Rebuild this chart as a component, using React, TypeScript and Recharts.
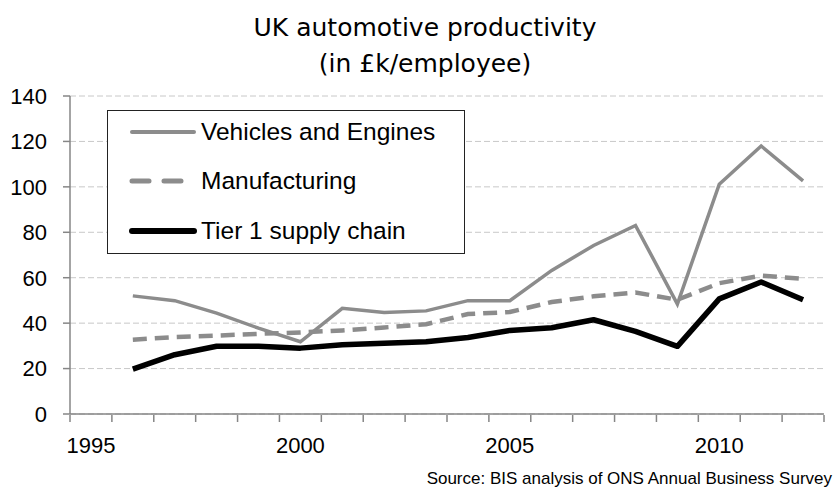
import { LineChart, Line, XAxis, YAxis, CartesianGrid, Legend } from "recharts";

const FONT = "'Liberation Sans', Arial, sans-serif";
const TITLE_FONT = "'DejaVu Sans', sans-serif";

const years = [1996, 1997, 1998, 1999, 2000, 2001, 2002, 2003, 2004, 2005, 2006, 2007, 2008, 2009, 2010, 2011, 2012];
const vehicles = [52.0, 49.9, 44.4, 37.8, 31.8, 46.5, 44.7, 45.4, 49.9, 49.9, 63.2, 74.2, 83.0, 48.4, 101.2, 118.0, 102.6];
const manufacturing = [32.7, 33.9, 34.5, 35.3, 35.9, 36.8, 38.1, 39.5, 44.0, 44.9, 49.3, 51.8, 53.5, 50.3, 57.6, 60.9, 59.5];
const tier1 = [19.8, 26.1, 29.8, 29.8, 29.0, 30.5, 31.2, 31.8, 33.7, 36.8, 38.0, 41.5, 36.4, 29.8, 50.7, 58.1, 50.3];

const yearLabels = [1995, 2000, 2005, 2010];
const yTicks = [0, 20, 40, 60, 80, 100, 120, 140];
// category boundaries (Excel puts tick marks between years)
const boundaryTicks = [years[0] - 1.5, ...years.map((y) => y - 0.5), years[years.length - 1] + 0.5];

const seriesOrder = ["vehicles", "manufacturing", "tier1"];

const data = years.map((year, i) => ({
  year,
  vehicles: vehicles[i],
  manufacturing: manufacturing[i],
  tier1: tier1[i],
}));

const legendStyle: Record<string, { stroke: string; width: number; dash?: string }> = {
  vehicles: { stroke: "#8c8c8c", width: 4 },
  manufacturing: { stroke: "#8c8c8c", width: 5, dash: "17 15" },
  tier1: { stroke: "#000", width: 6 },
};

function LegendBox({ payload }: any) {
  const items = [...(payload || [])].sort(
    (a: any, b: any) => seriesOrder.indexOf(a.dataKey) - seriesOrder.indexOf(b.dataKey)
  );
  return (
    <div
      style={{
        width: 358,
        height: 144,
        border: "1.5px solid #222",
        background: "#fff",
        fontFamily: FONT,
        fontSize: 24.5,
        boxSizing: "border-box",
      }}
    >
      {items.map((p: any, i: number) => {
        const s = legendStyle[p.dataKey];
        return (
          <div
            key={p.dataKey}
            style={{ display: "flex", alignItems: "center", height: 49.5, marginTop: i === 0 ? -4 : 0 }}
          >
            <svg width={93} height={20} style={{ flex: "none" }}>
              <line
                x1={24}
                x2={86}
                y1={10}
                y2={10}
                stroke={s.stroke}
                strokeWidth={s.width}
                strokeDasharray={s.dash}
                strokeLinecap="round"
              />
            </svg>
            <span style={{ color: "#000" }}>{p.value}</span>
          </div>
        );
      })}
    </div>
  );
}

const EmptyTick = () => <g />;

export default function App() {
  return (
    <div style={{ position: "absolute", left: 0, top: 0, width: 839, height: 490, background: "#fff" }}>
      <div
        style={{
          position: "absolute",
          left: 0,
          width: 850,
          top: 10,
          textAlign: "center",
          fontFamily: TITLE_FONT,
          fontSize: 25,
          lineHeight: "36px",
          color: "#000",
        }}
      >
        UK automotive productivity
        <br />
        (in £k/employee)
      </div>
      <LineChart width={839} height={490} data={data} margin={{ top: 96, right: 15, bottom: 36, left: 10 }}>
        <CartesianGrid vertical={false} stroke="#c8c8c8" strokeDasharray="6 3" />
        <XAxis
          dataKey="year"
          type="number"
          domain={[1994.5, 2012.5]}
          ticks={yearLabels}
          interval={0}
          height={1}
          tickLine={false}
          tickSize={7}
          tickMargin={16}
          axisLine={{ stroke: "#868686", strokeWidth: 1.5 }}
          tick={{ fontSize: 22, fill: "#000", fontFamily: FONT }}
        />
        <XAxis
          xAxisId="bounds"
          dataKey="year"
          type="number"
          domain={[1994.5, 2012.5]}
          ticks={boundaryTicks}
          interval={0}
          height={39}
          axisLine={false}
          tick={EmptyTick}
          tickSize={7}
          tickLine={{ stroke: "#868686", strokeWidth: 1.5 }}
        />
        <YAxis
          width={60}
          domain={[0, 140]}
          ticks={yTicks}
          interval={0}
          tickSize={7}
          tickMargin={16}
          axisLine={{ stroke: "#868686", strokeWidth: 1.5 }}
          tickLine={{ stroke: "#868686", strokeWidth: 1.5 }}
          tick={{ fontSize: 22, fill: "#000", fontFamily: FONT }}
        />
        <Legend
          layout="vertical"
          align="center"
          verticalAlign="middle"
          wrapperStyle={{ left: 107, top: 110, width: 358 }}
          content={LegendBox}
        />
        <Line
          dataKey="vehicles"
          name="Vehicles and Engines"
          stroke="#8c8c8c"
          strokeWidth={3.5}
          dot={false}
          isAnimationActive={false}
        />
        <Line
          dataKey="manufacturing"
          name="Manufacturing"
          stroke="#8c8c8c"
          strokeWidth={4.5}
          strokeDasharray="14 8"
          dot={false}
          isAnimationActive={false}
        />
        <Line
          dataKey="tier1"
          name="Tier 1 supply chain"
          stroke="#000"
          strokeWidth={5.5}
          strokeLinejoin="round"
          dot={false}
          isAnimationActive={false}
        />
      </LineChart>
      <div
        style={{
          position: "absolute",
          right: 7,
          top: 469,
          fontFamily: FONT,
          fontSize: 17,
          color: "#000",
          whiteSpace: "nowrap",
        }}
      >
        Source: BIS analysis of ONS Annual Business Survey
      </div>
    </div>
  );
}
